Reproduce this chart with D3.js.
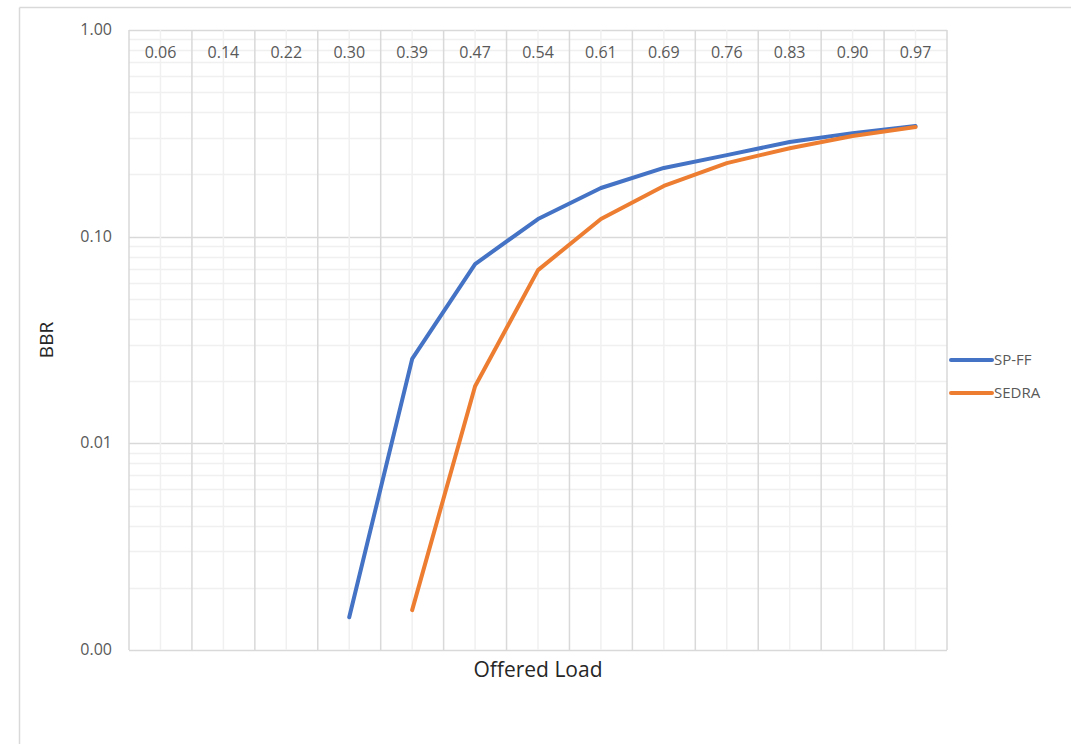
<!DOCTYPE html>
<html>
<head>
<meta charset="utf-8">
<title>BBR vs Offered Load</title>
<style>
  body { margin: 0; background: #fff; }
  text { font-family: "Open Sans", sans-serif; }
</style>
</head>
<body>
<script src="https://cdn.jsdelivr.net/npm/d3@7"></script>
<script>
// categories along x (shown at the top of the plot)
var loads = ["0.06", "0.14", "0.22", "0.30", "0.39", "0.47", "0.54", "0.61", "0.69", "0.76", "0.83", "0.90", "0.97"];

// BBR values (null = no point)
var spff  = [null, null, null, 0.00144, 0.0256, 0.0737, 0.1217, 0.172, 0.215, 0.248, 0.287, 0.317, 0.343];
var sedra = [null, null, null, null, 0.00156, 0.0189, 0.0689, 0.1217, 0.176, 0.227, 0.268, 0.307, 0.339];

var seriesNames  = ["SP-FF", "SEDRA"];
var seriesColors = ["#4472C4", "#ED7D31"];

var W = 1071, H = 744;
var plot = {left: 129, right: 947, top: 30, bottom: 650};

var svg = d3.select("body").append("svg")
    .attr("width", W)
    .attr("height", H);

// outer chart frame (only top and left show in the crop)
svg.append("line").attr("x1", 19.5).attr("y1", 7.5).attr("x2", W).attr("y2", 7.5)
    .style("stroke", "#d9d9d9").style("stroke-width", 1.5);
svg.append("line").attr("x1", 19.5).attr("y1", 7.5).attr("x2", 19.5).attr("y2", H)
    .style("stroke", "#d9d9d9").style("stroke-width", 1.5);

var x = d3.scaleBand().domain(loads).range([plot.left, plot.right]).padding(0);
var y = d3.scaleLog().domain([0.001, 1]).range([plot.bottom, plot.top]);

var grid = svg.append("g");

// horizontal gridlines: minor at 2..9, major at decades
y.ticks().forEach(function(v) {
    var major = Math.abs(Math.log10(v) - Math.round(Math.log10(v))) < 1e-9;
    grid.append("line")
        .attr("x1", plot.left).attr("x2", plot.right)
        .attr("y1", Math.round(y(v)) + 0.5).attr("y2", Math.round(y(v)) + 0.5)
        .style("stroke", major ? "#d9d9d9" : "#f0f0f0")
        .style("stroke-width", 1.5);
});

// vertical gridlines: minor at category centers, major at edges
loads.forEach(function(c) {
    var cx = x(c) + x.bandwidth() / 2;
    grid.append("line")
        .attr("x1", cx).attr("x2", cx)
        .attr("y1", plot.top).attr("y2", plot.bottom)
        .style("stroke", "#f0f0f0").style("stroke-width", 1.5);
});
loads.concat([null]).forEach(function(c) {
    var ex = c === null ? plot.right : x(c);
    grid.append("line")
        .attr("x1", ex).attr("x2", ex)
        .attr("y1", plot.top).attr("y2", plot.bottom)
        .style("stroke", "#d9d9d9").style("stroke-width", 1.5);
});

// category labels at the top of the plot area
svg.append("g").selectAll("text")
    .data(loads)
    .enter().append("text")
    .attr("x", function(d) { return x(d) + x.bandwidth() / 2; })
    .attr("y", 58)
    .attr("text-anchor", "middle")
    .style("font-size", "16px")
    .style("fill", "#595959")
    .text(function(d) { return d; });

// y tick labels
var yLabels = [0.001, 0.01, 0.1, 1];
svg.append("g").selectAll("text")
    .data(yLabels)
    .enter().append("text")
    .attr("x", 112)
    .attr("y", function(d) { return y(d) + 5; })
    .attr("text-anchor", "end")
    .style("font-size", "16px")
    .style("fill", "#595959")
    .text(function(d) { return d3.format(".2f")(d); });

// axis titles
svg.append("text")
    .attr("transform", "translate(53," + ((plot.top + plot.bottom) / 2) + ") rotate(-90)")
    .attr("text-anchor", "middle")
    .style("font-size", "19px")
    .style("fill", "#262626")
    .text("BBR");

svg.append("text")
    .attr("x", (plot.left + plot.right) / 2)
    .attr("y", 677)
    .attr("text-anchor", "middle")
    .style("font-size", "21px")
    .style("fill", "#262626")
    .text("Offered Load");

// series lines
var line = d3.line()
    .defined(function(d) { return d.v !== null; })
    .x(function(d) { return x(d.c) + x.bandwidth() / 2; })
    .y(function(d) { return y(d.v); });

[spff, sedra].forEach(function(vals, i) {
    var data = loads.map(function(c, j) { return {c: c, v: vals[j]}; });
    svg.append("path")
        .datum(data)
        .attr("d", line)
        .style("fill", "none")
        .style("stroke", seriesColors[i])
        .style("stroke-width", 4)
        .style("stroke-linecap", "round")
        .style("stroke-linejoin", "round");
});

// legend
var legend = svg.append("g").attr("transform", "translate(951,360)");
seriesNames.forEach(function(name, i) {
    var g = legend.append("g").attr("transform", "translate(0," + (i * 33) + ")");
    g.append("line")
        .attr("x1", 0).attr("x2", 41)
        .style("stroke", seriesColors[i])
        .style("stroke-width", 4)
        .style("stroke-linecap", "round");
    g.append("text")
        .attr("x", 43)
        .attr("y", 5)
        .style("font-size", "15px")
        .style("fill", "#595959")
        .text(name);
});
</script>
</body>
</html>
